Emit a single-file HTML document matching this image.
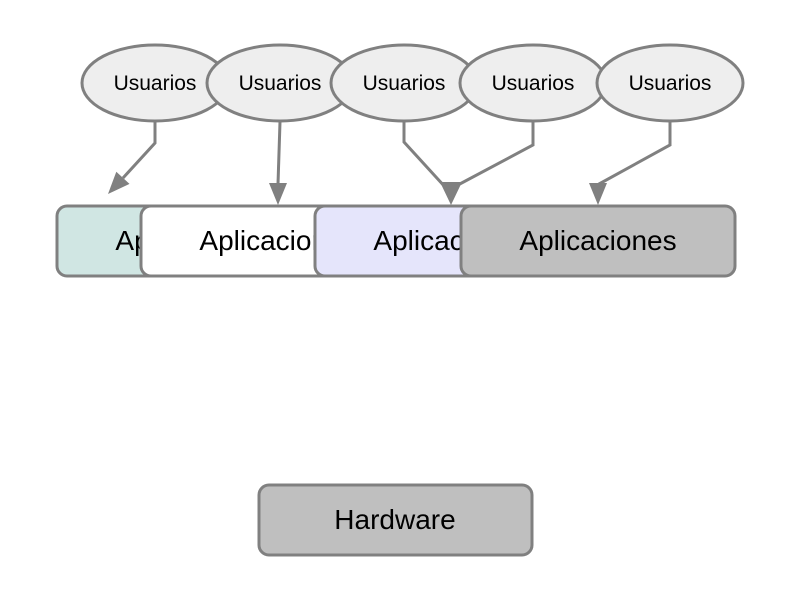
<!DOCTYPE html>
<html><head><style>body{margin:0;background:#fff}svg{display:block}</style></head><body>
<svg width="794" height="600" xmlns="http://www.w3.org/2000/svg" font-family="Liberation Sans, sans-serif">
<g fill="none" stroke="#808080" stroke-width="3">
<path d="M155,122V143L123,178"/>
<path d="M280,122L278,184"/>
<path d="M404,122V142L446,188"/>
<path d="M533,122V145L456,186"/>
<path d="M670,122V145L599,184L598,186"/>
</g>
<g fill="#808080">
<polygon points="108,194 129.5,183.9 116.3,171.7"/>
<polygon points="278,205 269,183 287,183"/>
<polygon points="451,205 440,182 462,182"/>
<polygon points="598,205 589,183 607,183"/>
</g>
<g stroke="#808080" stroke-width="3">
<ellipse cx="155" cy="83" rx="73" ry="38" fill="#eeeeee"/>
<ellipse cx="280" cy="83" rx="73" ry="38" fill="#eeeeee"/>
<ellipse cx="404" cy="83" rx="73" ry="38" fill="#eeeeee"/>
<ellipse cx="533" cy="83" rx="73" ry="38" fill="#eeeeee"/>
<ellipse cx="670" cy="83" rx="73" ry="38" fill="#eeeeee"/>
</g>
<g font-size="21" text-anchor="middle" fill="#000">
<text x="155" y="90">Usuarios</text><text x="280" y="90">Usuarios</text><text x="404" y="90">Usuarios</text><text x="533" y="90">Usuarios</text><text x="670" y="90">Usuarios</text>
</g>
<g stroke="#808080" stroke-width="3" font-size="28" text-anchor="middle">
<rect x="57" y="206" width="274" height="70" rx="10" fill="#d0e6e3"/><text x="194" y="250" stroke="none">Aplicaciones</text>
<rect x="141" y="206" width="274" height="70" rx="10" fill="#fff"/><text x="278" y="250" stroke="none">Aplicaciones</text>
<rect x="315" y="206" width="274" height="70" rx="10" fill="#e5e5fb"/><text x="452" y="250" stroke="none">Aplicaciones</text>
<rect x="461" y="206" width="274" height="70" rx="10" fill="#bfbfbf"/><text x="598" y="250" stroke="none">Aplicaciones</text>
<rect x="259" y="485" width="273" height="70" rx="10" fill="#bfbfbf"/><text x="395" y="529" stroke="none">Hardware</text>
</g>
</svg>
</body></html>
